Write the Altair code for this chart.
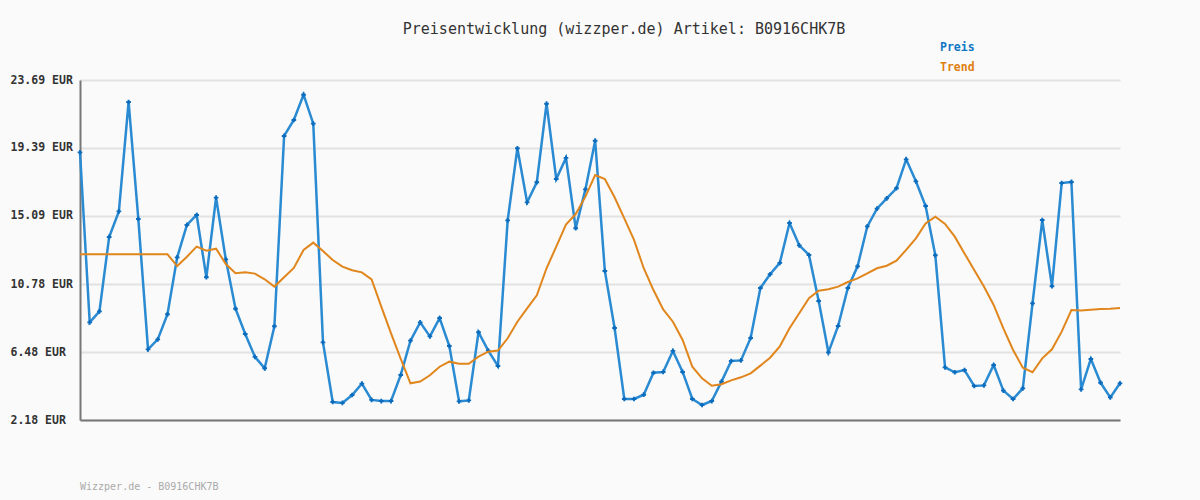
import altair as alt
import pandas as pd

preis = [19.11, 8.36, 9.05, 13.76, 15.38, 22.30, 14.90, 6.65, 7.28, 8.87,
         12.47, 14.52, 15.15, 11.21, 16.25, 12.34, 9.22, 7.62, 6.17, 5.45,
         8.11, 20.15, 21.16, 22.76, 20.93, 7.09, 3.32, 3.26, 3.76, 4.48,
         3.45, 3.38, 3.38, 5.03, 7.20, 8.36, 7.47, 8.63, 6.86, 3.36,
         3.42, 7.73, 6.57, 5.60, 14.81, 19.37, 15.95, 17.22, 22.19, 17.43,
         18.76, 14.31, 16.77, 19.85, 11.61, 8.00, 3.51, 3.51, 3.78, 5.17,
         5.22, 6.55, 5.22, 3.51, 3.13, 3.38, 4.61, 5.91, 5.95, 7.37,
         10.53, 11.40, 12.12, 14.64, 13.23, 12.62, 9.71, 6.46, 8.13, 10.53,
         11.90, 14.43, 15.55, 16.20, 16.84, 18.67, 17.28, 15.72, 12.60, 5.51,
         5.20, 5.34, 4.33, 4.37, 5.66, 4.04, 3.51, 4.18, 9.56, 14.83,
         10.64, 17.17, 17.24, 4.12, 6.04, 4.54, 3.61, 4.50]

trend = [12.66, 12.66, 12.66, 12.66, 12.66, 12.66, 12.66, 12.66, 12.66, 12.66,
         11.92, 12.51, 13.15, 12.89, 13.02, 12.05, 11.46, 11.52, 11.44, 11.08,
         10.62, 11.21, 11.80, 12.94, 13.40, 12.87, 12.30, 11.88, 11.65, 11.52,
         11.08, 9.35, 7.66, 6.05, 4.50, 4.61, 5.01, 5.55, 5.87, 5.74,
         5.74, 6.19, 6.50, 6.57, 7.35, 8.40, 9.24, 10.07, 11.78, 13.15,
         14.54, 15.21, 16.31, 17.68, 17.43, 16.27, 14.94, 13.57, 11.78, 10.40,
         9.18, 8.40, 7.24, 5.55, 4.82, 4.35, 4.44, 4.69, 4.88, 5.13,
         5.62, 6.12, 6.84, 7.98, 8.93, 9.88, 10.36, 10.45, 10.62, 10.91,
         11.14, 11.46, 11.78, 11.94, 12.26, 12.94, 13.67, 14.62, 15.04, 14.58,
         13.78, 12.72, 11.67, 10.62, 9.46, 7.98, 6.61, 5.49, 5.20, 6.08,
         6.65, 7.77, 9.14, 9.10, 9.15, 9.20, 9.22, 9.27]

y_ticks = [2.18, 6.48, 10.78, 15.09, 19.39, 23.69]
series_names = ["Preis", "Trend"]
series_colors = ["#0d77c4", "#df7f10"]
title_text = "Preisentwicklung (wizzper.de) Artikel: B0916CHK7B"
footer_text = "Wizzper.de - B0916CHK7B"

df = pd.DataFrame({"idx": list(range(len(preis))), "preis": preis, "trend": trend})

MONO = "DejaVu Sans Mono"

x_enc = alt.X("idx:Q", scale=alt.Scale(domain=[0, len(preis) - 1], nice=False, zero=False),
              axis=alt.Axis(labels=False, ticks=False, grid=False, title=None,
                            domainColor="#777777", domainWidth=2))
y_scale = alt.Scale(domain=[y_ticks[0], y_ticks[-1]], nice=False, zero=False)
y_axis = alt.Axis(values=y_ticks, labelExpr="format(datum.value, '.2f') + ' EUR'",
                  title=None, ticks=False, grid=True, gridColor="#e2e2e2", gridWidth=2,
                  domainColor="#777777", domainWidth=2,
                  labelAlign="left", labelPadding=70, labelFont=MONO,
                  labelFontWeight="bold", labelFontSize=11.5, labelColor="#333333")

base = alt.Chart(df)

blue_line = base.mark_line(color="#2a8ad2", strokeWidth=2.5).encode(
    x=x_enc, y=alt.Y("preis:Q", scale=y_scale, axis=y_axis))
blue_pts = base.mark_point(shape="cross", filled=True, size=22, color="#0b6cbd", opacity=1).encode(
    x=x_enc, y=alt.Y("preis:Q", scale=y_scale, axis=y_axis))
orange_line = base.mark_line(color="#e0861c", strokeWidth=2).encode(
    x=x_enc, y=alt.Y("trend:Q", scale=y_scale, axis=y_axis))


def label(text, color, y, size, weight, x, align):
    return alt.Chart(pd.DataFrame({"t": [text]})).mark_text(
        font=MONO, fontSize=size, fontWeight=weight, color=color,
        align=align, baseline="middle").encode(
        text="t:N", x=alt.value(x), y=alt.value(y))


legend_preis = label(series_names[0], series_colors[0], -32, 11.5, "bold", 860, "left")
legend_trend = label(series_names[1], series_colors[1], -12, 11.5, "bold", 860, "left")
title = label(title_text, "#333333", -51, 15, "normal", 544, "center")
footer = label(footer_text, "#aaaaaa", 407, 10, "normal", 0, "left")

chart = alt.layer(blue_line, blue_pts, orange_line, legend_preis, legend_trend, title, footer).properties(
    width=1040, height=340,
    background="#fafafa",
    padding={"left": 80, "top": 80, "right": 80, "bottom": 80},
    autosize=alt.AutoSizeParams(type="none"),
).configure_view(stroke=None)

chart.save("out.html", embed_options={"renderer": "svg", "actions": False})
